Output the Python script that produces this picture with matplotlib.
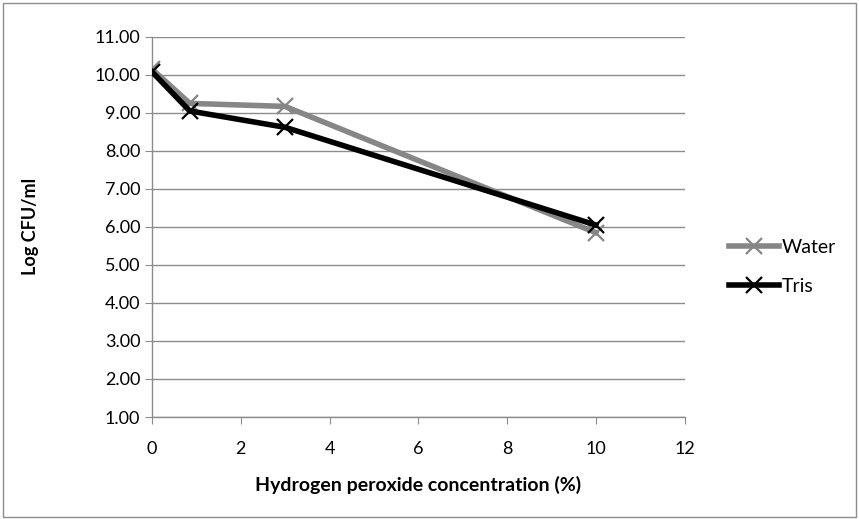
import matplotlib.pyplot as plt
from matplotlib.patches import Rectangle

plt.rcParams['font.family'] = ['Lato', 'DejaVu Sans']

conc = [0, 0.85, 3, 10]
water = [10.15, 9.25, 9.17, 5.85]
tris = [10.08, 9.05, 8.62, 6.05]

fig = plt.figure(figsize=(8.59, 5.19), dpi=100)
ax = fig.add_axes([0.177, 0.1965, 0.62, 0.7325])

ax.plot(conc, water, color='#868686', linewidth=4, marker='x', markersize=12,
        markeredgewidth=1.6, label='Water', zorder=3)
ax.plot(conc, tris, color='black', linewidth=4, marker='x', markersize=12,
        markeredgewidth=1.6, label='Tris', zorder=4)

ax.set_xlim(0, 12)
ax.set_ylim(1, 11)
ax.set_xticks(range(0, 13, 2))
ax.set_yticks(range(1, 12))
ax.set_yticklabels([f'{v:.2f}' for v in range(1, 12)])
ax.grid(axis='y', color='#8c8c8c', linewidth=1)
ax.set_axisbelow(True)
for s in ['top', 'right']:
    ax.spines[s].set_visible(False)
for s in ['left', 'bottom']:
    ax.spines[s].set_color('#8c8c8c')
    ax.spines[s].set_linewidth(1)
ax.tick_params(axis='both', colors='#8c8c8c', labelcolor='black', labelsize=13,
               length=5, direction='out')
ax.tick_params(axis='x', pad=12)

ax.set_xlabel('Hydrogen peroxide concentration (%)', fontsize=14, fontweight='bold', labelpad=14)
ax.set_ylabel('Log CFU/ml', fontsize=13, fontweight='bold', labelpad=40)

ax.legend(loc='center left', bbox_to_anchor=(1.05, 0.395), frameon=False, fontsize=14,
          handlelength=2.6, handletextpad=0.1, labelspacing=1.1)

fig.patches.append(Rectangle((0.004, 0.004), 0.992, 0.99, transform=fig.transFigure,
                             fill=False, edgecolor='#8c8c8c', linewidth=1))

plt.savefig('out.png', dpi=100)
